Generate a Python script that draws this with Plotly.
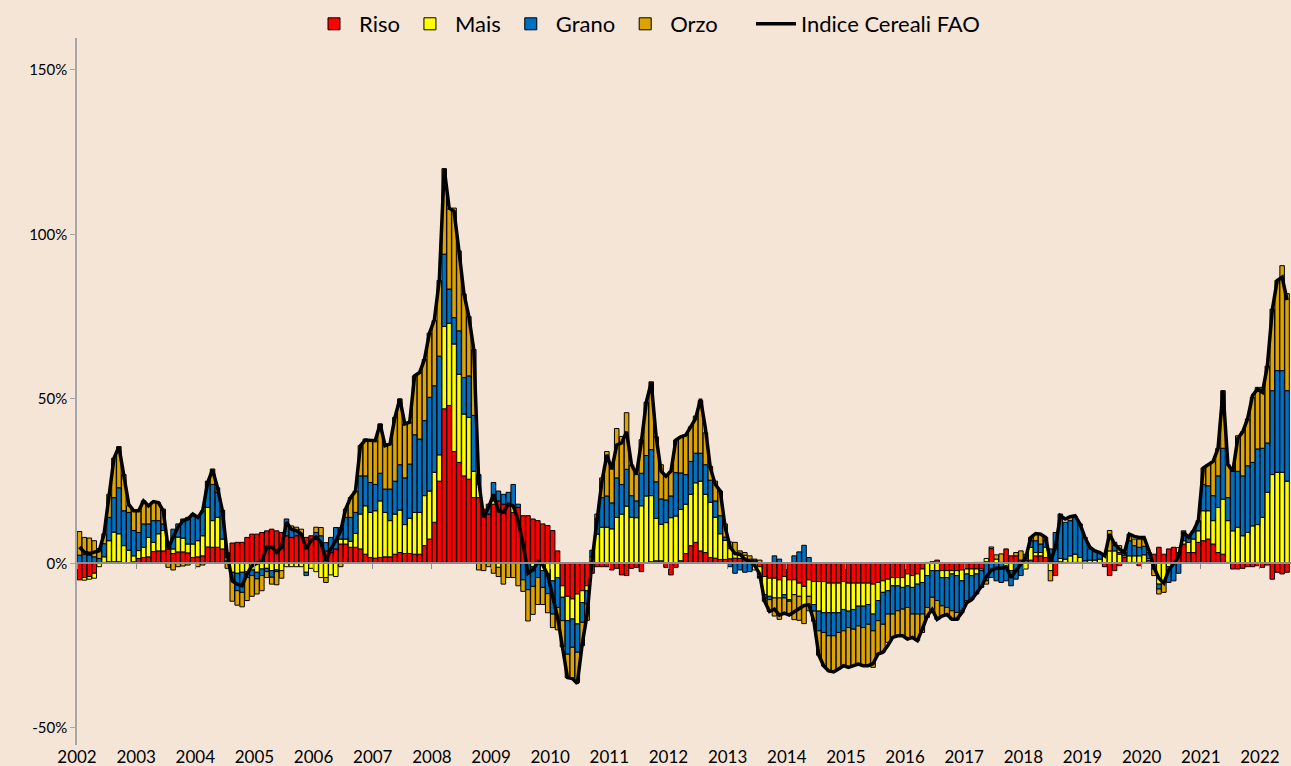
import plotly.graph_objects as go

years = [str(y) for y in range(2002, 2023)]

riso = [
    -5, -4.3, -4, -3, 0, 0.3, 0.5, 0.5, 0.5, 0, 0, 0.5,
    1.5, 1.8, 2, 3.6, 3.8, 3.8, 4.3, 3, 3.5, 3.5, 3.2, 1.8,
    2, 2.3, 5, 4.9, 4.9, 4.4, 0.8, 6.2, 6.4, 6.4, 7.9, 8.9,
    8.9, 9.4, 9.9, 10.4, 9.9, 9.4, 8.4, 7.9, 8.4, 8.9, 7.9, 8.4,
    7.4, 6.4, 3.8, 3.3, 4.4, 5.9, 5.9, 4.9, 4.9, 4.4, 2.8, 1.8,
    1.6, 1.8, 2, 2, 2.8, 3.3, 3, 3, 2.8, 2.8, 5.4, 7.4,
    12.5, 25, 47, 48, 34, 30.7, 26.6, 25.6, 20, 20, 16.5, 15,
    18, 19, 18, 18, 15.5, 17, 14.5, 14.5, 13.5, 13, 12, 11.5,
    10, 3.8, -6.8, -10, -10.8, -9.3, -8.3, -6.8, -3, -1, -1, -1,
    -2, -1.5, -3.5, -3.7, -1.5, -1.2, -2.5, 0, 0.5, 0.8, 0.8, -1.2,
    -3.5, -1.2, 0.8, 3, 5.4, 6.4, 3.8, 3.3, 1.8, 1.6, 1.2, 1.2,
    1.4, 1.6, 1.5, 1.2, 1, 0.5, -1, -4, -4.5, -4.5, -5, -4,
    -5, -5, -6, -7, -5, -5.5, -5.5, -5.5, -6, -6, -6, -5.5,
    -6, -6, -6, -6, -6, -6.3, -5.8, -5.3, -4.8, -4.3, -4.3, -4.3,
    -3.2, -3.7, -3.2, -1.7, 0.3, 0.5, 1, -2.2, -2.2, -2.2, -2.2, -2,
    -1.7, -1.7, -1.7, -1.7, 0.5, 4.5, 0, 0.3, 4.4, 2.3, 2.3, 1,
    1, 1, 2.3, 2.3, 1.8, 1.8, -3.7, 0.5, 0.3, 0.3, 0.3, 0.3,
    0.3, 0.2, 0, 0, -1, -3.7, -2.2, -0.7, 1.8, 0.3, 0.3, -0.7,
    0.3, 1, 2.8, 4.9, 2.8, 4.4, 4.9, 3.3, 5.9, 3.3, 3.3, 6.4,
    6.9, 7.4, 5.9, 3.3, 2.8, 0.3, -1.7, -1.7, -1.5, -1, -1, -0.7,
    -1.2, -0.5, -4.8, -2.7, -3.2, -2.7,
]

mais = [
    0, -0.8, -0.8, -1.5, -1, 1.7, 6.4, 9, 8.5, 5.4, 4, 1.8,
    2.4, 3.1, 5.9, 2.8, 5.2, 6.2, 0.5, 1.4, 4.5, 4.2, 2.7, 4.1,
    4.9, 6.1, 12, 8.1, 9.1, 3, 1, -2.7, -3, -2.7, -2.5, -2,
    -2.7, -1.7, -1.5, -2.2, -2, -2.2, -1, -1, -1, -1, -2.7, -1.5,
    -2.5, -4.3, -4.3, -3.5, -4, 1.5, 1.5, 1.8, 4.2, 10.6, 14.7, 13.7,
    14.4, 17.2, 13.5, 11, 12.2, 12.9, 8.8, 10.7, 12.7, 12.7, 15.2, 14.6,
    15.2, 8, 25, 25, 32.7, 26.8, 18.8, 18.8, 8, 4, 0, 0,
    1, -1.2, 0, 0, 2, 0, 0, 0, -1, 0, -2.2, -3.2,
    -5.3, -4.3, -3.5, -7.4, -6.1, -9.1, -3.6, -1.5, 2, 8.9, 11, 11,
    10.5, 14, 15, 17.4, 14, 13.9, 17.5, 20.5, 20.1, 12.9, 11.1, 12.4,
    13.9, 14.4, 15.6, 15, 15.6, 18.1, 21.2, 17.7, 16.8, 12.4, 7.8, 5.8,
    3.1, 1.4, 1, 1.3, 0.3, -2, -3, -5.5, -5.5, -6, -5.5, -5.5,
    -6, -4.5, -4, -6, -5, -7, -9, -9.5, -9, -9, -9, -8.5,
    -8.5, -8, -7, -7, -6.5, -9.1, -5.5, -3.5, -3.5, -2.5, -2.5, -3,
    -3.6, -3.6, -3.1, -4.1, -3.7, -2.2, -2.2, -2.1, -2.1, -1, -1.5, -3.3,
    -1.5, -2, -1.5, -0.5, 1, 0, 1.3, 0, -1.7, -2.2, 0, 0,
    -1.7, 3.9, 1, 1, 3.1, -2.2, 0.5, 1, 1, 2, 2.5, 1.5,
    0.5, 0.8, 1, 1.3, 2.8, 3.8, 3.8, 2.8, 0.5, 2, 2, 2.3,
    2.3, 0.5, 0, -6.3, -5.3, -1, 0, 1.5, 1, 3.1, 4.1, 3.5,
    9.1, 8.6, 7.1, 13.7, 16.7, 12.7, 9.9, 11, 8.4, 9.4, 11.4, 11.8,
    14, 21.6, 27, 27.7, 27.7, 25,
]

grano = [
    2.5, 2.8, 2.5, 2, 1.5, 4, 7.1, 10.5, 14, 10.6, 11.5, 7.7,
    5.5, 7.1, 4.1, 6.6, 4, 2, 0.5, 6, 4, 5.8, 8.1, 8.6,
    7.6, 7.6, 8, 11, 7.6, 8.8, 1.5, -2.1, -5.3, -6.1, -1.8, -1.7,
    -2, -2, -1, -2, -0.5, 0, 5.1, 2.5, 1.5, 0, -1, 0,
    2, 2, 2.5, 4.6, 6.5, 3.5, 6.6, 7.3, 6.4, 11.6, 9.1, 9.1,
    8, 8.4, 7.1, 9.6, 10, 13.8, 14.2, 16.5, 23.6, 22.3, 22.8, 28.5,
    26.3, 30, 22, 10.4, 8, 13.2, 11.1, 12.6, 17, 3, 0, 3,
    5.6, 3, 3, 3.6, 6.5, 1, -5, -8, -6, -4.3, -5.1, -6,
    -10.1, -9.1, -7.1, -10.2, -8.6, -8.6, -6, -4, 2, 4.6, 9, 9.5,
    7.9, 12, 9, 11.2, 6.6, 5.1, 9.9, 12.3, 14, 11.1, 7.7, 6.9,
    6.6, 13.2, 11.1, 9, 10, 9, 8.5, 9, 6.7, 5, 5.5, 1,
    -1, -3, -2, -2.7, -2.5, 0.5, -0.5, -1, -1, 2.3, 1.3, -1,
    -0.5, 2.3, 3.5, 5.5, 1.8, -2, -6, -6, -7, -7, -6, -6.5,
    -5, -6, -6, -6.5, -6, -5.1, -6.1, -9.7, -7.1, -8.6, -7.6, -6.6,
    -6.6, -8.1, -9.1, -9.6, -9.7, -8.1, -9.1, -8.6, -9.1, -11.2, -11.2, -9.1,
    -8.1, -6.8, -6.1, -5.1, -5.3, -4.3, -5.3, -5.8, -3.6, -4.6, -4.8, -3.7,
    1.8, 2, 3.6, 2.6, 2, 2.6, 8.9, 13.5, 11.2, 10.7, 11.2, 9.7,
    7.1, 3.4, 3, 2, 0.2, 0, 1.6, 0.5, 1, 4.6, 3.1, 2.6,
    2.6, 1.8, -1.7, -1.5, 0, -4.8, -5.3, -3, 3, 1.6, 2.5, 3.1,
    8, 7.6, 7.6, 9.6, 15.5, 7, 18.1, 17, 18.2, 20.3, 19.3, 23,
    21, 15, 25.5, 30.9, 30.9, 27.5,
]

orzo = [
    7.2, 5.1, 5.2, 4.9, 3, 3, 7, 12, 12.5, 11, 2, 6,
    6.4, 7, 5.5, 5.8, 5.5, 4.5, -1.2, -2, -1, -0.8, -0.5, 0.5,
    -1, -0.5, 0, 4.7, 1.4, 0, -1.5, -6.7, -4.4, -4.4, -7, -6.3,
    -4.6, -4.6, -1.8, -2.1, -4, -2.3, 0, 1, 1.1, 1.5, 0, 0,
    1.6, 2.5, -1.5, 0, 0, -1, 2.5, 6, 6.5, 9.2, 11.2, 12.7,
    13.3, 15, 13.2, 13.7, 19.4, 20, 16.4, 12.7, 17.9, 20.2, 18.6, 19.5,
    19.8, 23, 26, 24.3, 33.3, 24.3, 25.4, 18, 20, -2, -2.2, -1,
    -3, -2.8, -6.3, -4.3, -4.3, -6.8, -3.5, -9.5, -8.5, -8.2, -5.2, -5.8,
    -4.1, -6.8, -8, -7.1, -9.2, -9.2, -7.1, -5, 0, 1.5, 6, 13.5,
    12.2, 15, 14.6, 17.2, 9.3, 8, 10.2, 16.2, 20.6, 13.7, 10.4, 7.2,
    7.5, 9.9, 11, 12, 10.5, 11.3, 16, 9.7, 4.2, 6, 7.5, 4,
    2, 3.4, 1.3, 0.8, 1, 0.3, 1, -1, -3.6, -5.5, -6.5, -4.6,
    -4.2, -7.6, -7.3, -5.3, -4.4, -3.1, -7.4, -10.2, -10.7, -11, -11.1, -10.6,
    -12.1, -11.1, -11.6, -11.6, -12.6, -11.1, -10.2, -8.5, -8.6, -7.1, -7.6, -8.1,
    -9.6, -7.1, -8.1, -5.6, -3, -3.6, -5.7, -3, -2.5, -2.6, -2.3, -0.6,
    -0.6, -0.5, 0.3, 0.3, -1, 0.5, 1.3, 2.6, 0, 0, 1, 2.8,
    0, 1, 2, 3, 1, -3.1, 0, 0, 0, 1, 0.2, 0.5,
    0, 0, 0, 0, 0, 6.2, 1, 2.1, 0, 2, 2, 2.5,
    2, 0, -2, -1.5, -3.5, 0, 0, 0, 0, 0, 0, 0,
    5, 6.4, 10.4, 8.4, 17.5, 10, 0.5, 10.8, 13.4, 14.2, 19.8, 18.7,
    18.5, 23.4, 24.8, 27.4, 31.9, 29.5,
]

indice = [
    5, 3.4, 3, 3.4, 3.8, 9, 21.5, 32, 35.5, 27, 18, 16,
    16, 19, 17.5, 18.8, 18.5, 16, 4.5, 8, 11, 12.9, 13.5, 15,
    14, 16, 24.5, 28.5, 23, 16, 2.5, -5.3, -6.3, -6.8, -3.2, -0.7,
    0, 0.8, 4.9, 5, 3.4, 4.9, 12.5, 10.4, 10, 9, 4.4, 6.9,
    8, 6.4, 0.8, 4.4, 6.9, 9.9, 16.5, 20, 22, 35.8, 37.5, 37.3,
    37.3, 42.4, 35.8, 36.3, 44.4, 50, 42.4, 42.9, 57, 58, 62, 70,
    74, 86, 120, 108, 107, 95, 82, 75, 65, 25, 14, 17,
    21, 16, 15.5, 18, 17.5, 13, 6, -3, -2, 0.5, -0.5, -3.5,
    -10, -16.4, -25.5, -34.7, -35, -36.5, -24.5, -15.5, 1, 14, 25, 33,
    28.6, 36, 36.6, 40, 30, 27, 37, 49, 55, 38.5, 28, 26.5,
    28, 37.5, 38.5, 39, 41.5, 44, 50, 41, 29, 24, 22, 11,
    5, 3, 2.8, 1.3, 0.5, -0.7, -3.2, -11.5, -14.6, -13.9, -15.7, -15.1,
    -15.7, -14.8, -13.8, -12.8, -12.6, -17.6, -27.9, -31.2, -32.7, -33, -32.1, -31.1,
    -31.6, -31.1, -30.6, -31.1, -31.1, -30.5, -27.6, -27, -25, -22.5, -22, -22,
    -23, -22.5, -23.5, -20, -16, -14, -17, -16, -15.5, -17, -17, -15,
    -12, -11, -9, -7, -4, -2, -1.5, -1.5, -1, -4.3, -2.2, 0,
    1.8, 7.9, 9.1, 8.9, 7.9, 0.5, 4.9, 14.5, 13.5, 14.2, 14.5, 12,
    7.9, 4.9, 3.8, 3.3, 2.3, 8.9, 5.9, 4.4, 3.3, 8.9, 8.2, 7.9,
    7.9, 3.8, -1.2, -4.5, -6, -2, 0, 2, 9.4, 8, 9.9, 13,
    29, 30, 31, 35, 52.5, 30, 28, 38, 40, 44, 51, 53,
    52, 60, 77, 86, 87, 80,
]

y_ticks = [-50, 0, 50, 100, 150]
y_labels = ["-50%", "0%", "50%", "100%", "150%"]

n = len(indice)
months = list(range(n))
year_pos = [12 * i - 0.5 for i in range(len(years))]

W, H = 1291, 766
PLOT_L, PLOT_R, PLOT_T, PLOT_B = 77, 1291, 38, 745
Y_MIN, Y_MAX = -55.2, 159.7
zero_px = PLOT_B - (0 - Y_MIN) / (Y_MAX - Y_MIN) * (PLOT_B - PLOT_T)

BG = "#F4E5D7"
FONT = "Lato, 'Open Sans', sans-serif"
AXIS_GRAY = "#A6A6A6"
NB = "\u00a0"

fig = go.Figure()
series = [
    ("Riso", riso, "#FF0000"),
    ("Mais", mais, "#FFFF00"),
    ("Grano", grano, "#0070C0"),
    ("Orzo" + NB * 5, orzo, "#DDA400"),
]
for name, vals, color in series:
    fig.add_trace(go.Bar(
        x=months,
        y=[v if v != 0 else None for v in vals],
        name=name,
        marker=dict(color=color, line=dict(color="#000000", width=1)),
    ))

fig.add_trace(go.Scatter(
    x=months, y=indice, name="Indice Cereali FAO", mode="lines",
    line=dict(color="#000000", width=3.5),
    xaxis="x2", yaxis="y",
))

fig.update_layout(
    width=W, height=H,
    margin=dict(l=0, r=0, t=0, b=0, autoexpand=False),
    paper_bgcolor=BG,
    plot_bgcolor=BG,
    barmode="relative",
    bargap=0.08,
    font=dict(family=FONT, color="#000000"),
    showlegend=True,
    legend=dict(
        orientation="h", x=(647 / W), xanchor="center",
        y=1 - 3 / H, yanchor="top",
        font=dict(family=FONT, size=22, color="#000000"),
        bgcolor="rgba(0,0,0,0)", traceorder="normal", itemwidth=40,
    ),
    xaxis=dict(
        domain=[PLOT_L / W, PLOT_R / W], automargin=False,
        range=[-0.5, 245.8], showgrid=False, zeroline=False, showline=False,
        tickmode="array", tickvals=year_pos, ticktext=years, ticks="",
        tickfont=dict(family=FONT, size=17, color="#000000"),
    ),
    xaxis2=dict(
        matches="x", overlaying="x", anchor="free", position=(H - zero_px) / H,
        automargin=False,
        showgrid=False, zeroline=False, showline=True, linecolor="#8C8C8C", linewidth=1.5,
        tickmode="array", tickvals=year_pos, ticks="outside", ticklen=5,
        tickcolor="#8C8C8C", tickwidth=1, showticklabels=False,
    ),
    yaxis=dict(
        domain=[(H - PLOT_B) / H, (H - PLOT_T) / H], automargin=False,
        range=[Y_MIN, Y_MAX], showgrid=False, zeroline=False,
        showline=True, linecolor=AXIS_GRAY, linewidth=1.5,
        tickmode="array", tickvals=y_ticks, ticktext=y_labels,
        ticks="outside", ticklen=5, tickcolor=AXIS_GRAY,
        tickfont=dict(family=FONT, size=15, color="#000000"),
    ),
)

fig.write_html(
    "out.html",
    config={"displayModeBar": False},
    post_script=(
        "document.body.style.margin='0px';"
        "document.body.style.padding='0px';"
        "document.body.style.background='" + BG + "';"
        "document.body.style.overflow='hidden';"
    ),
)
